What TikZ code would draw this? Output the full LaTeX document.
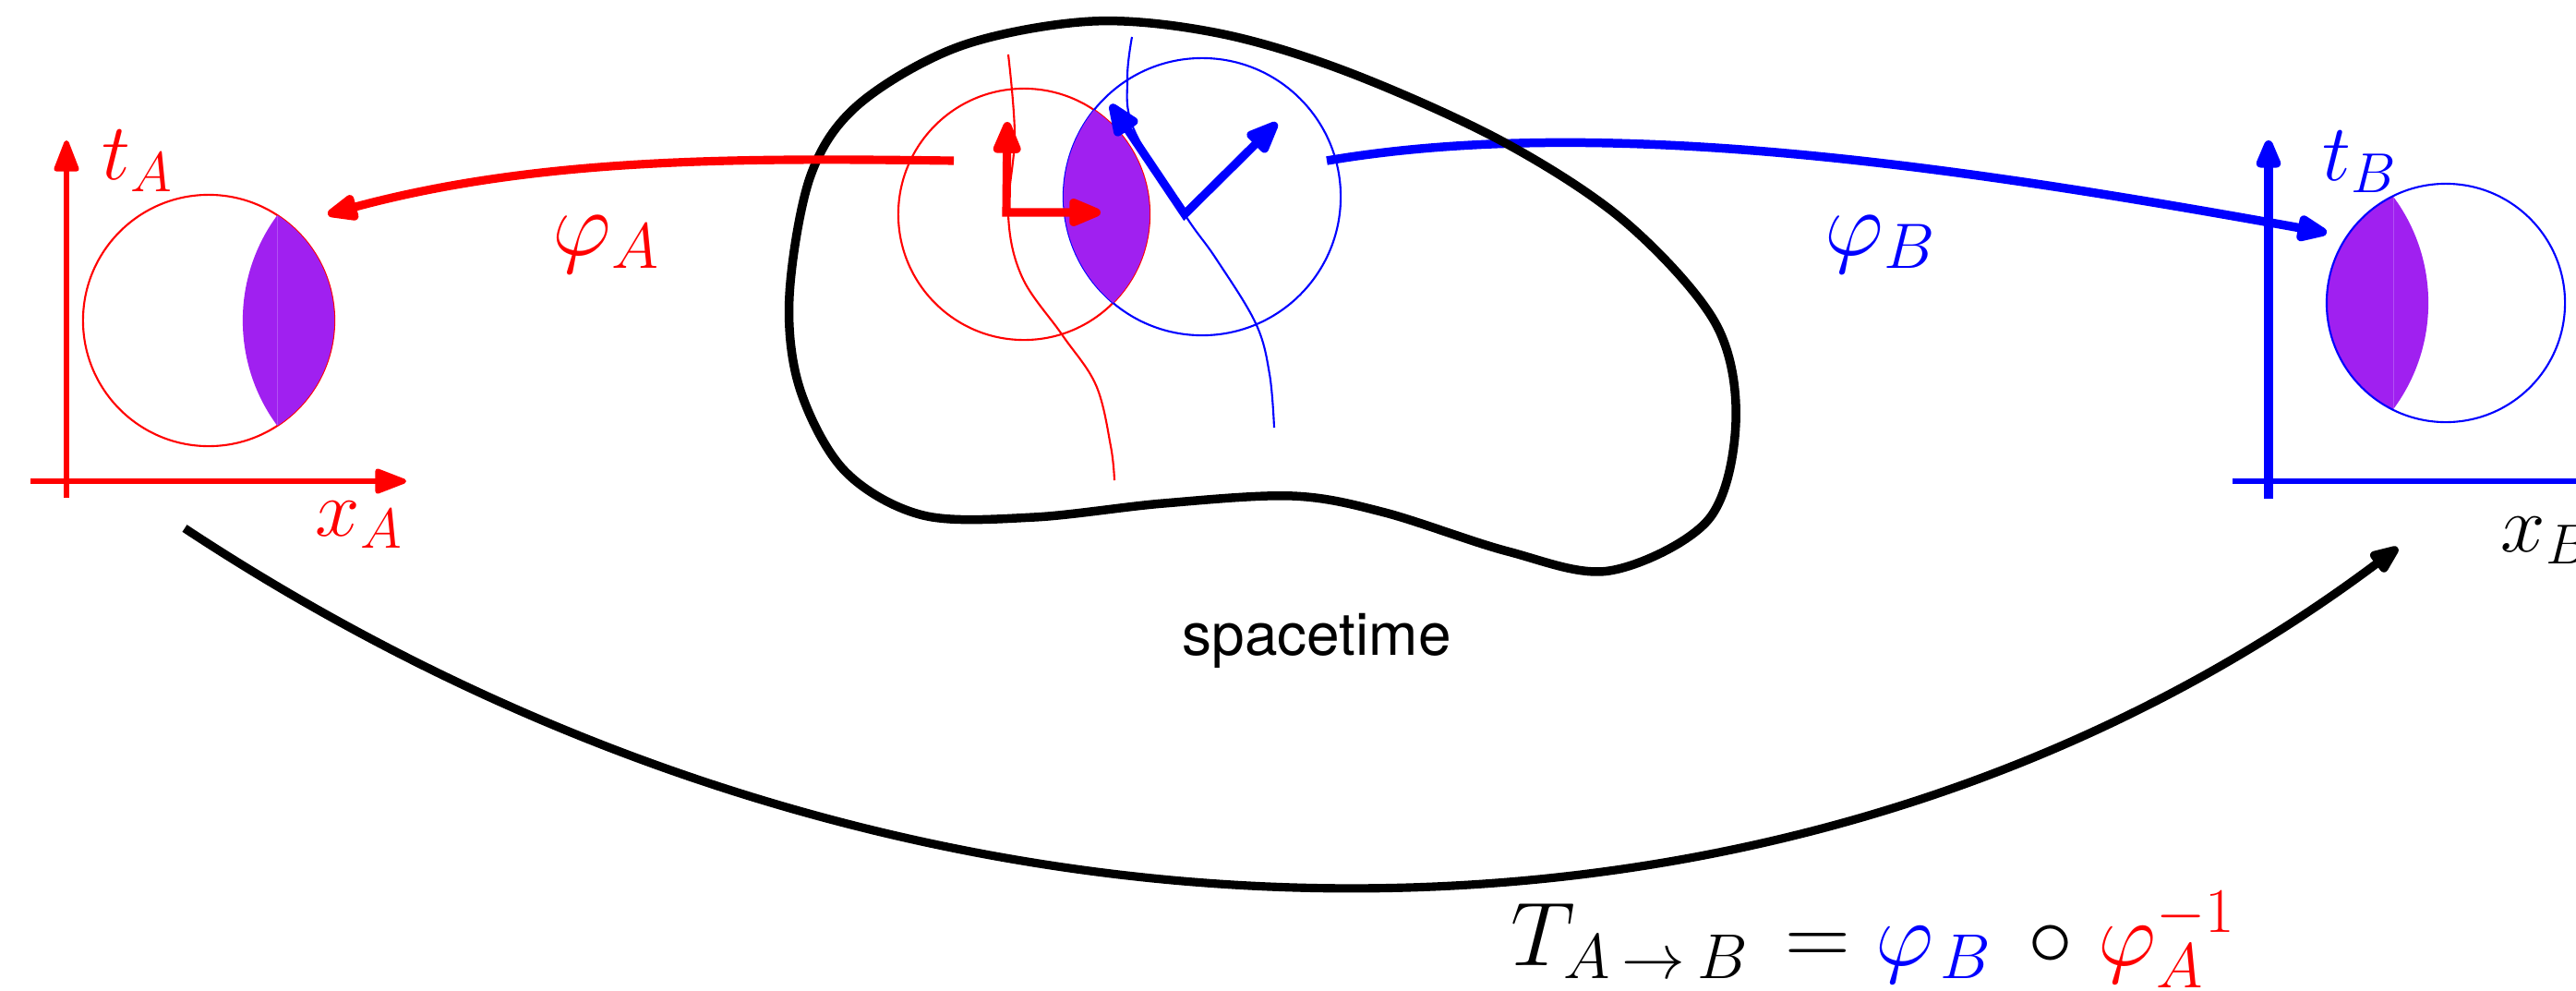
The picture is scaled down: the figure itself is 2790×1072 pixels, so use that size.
\RequirePackage{fix-cm}
\documentclass[tikz,border=0pt]{standalone}
\usepackage{fontspec}
\newfontfamily\heros{TeX Gyre Heros}
\usetikzlibrary{arrows.meta}
\definecolor{lens}{RGB}{160,32,240}
\definecolor{seam}{RGB}{178,80,243}
\tikzset{
  thincirc/.style={line width=0.6pt},
  wline/.style={line width=0.6pt},
  framearrows/.style={line width=2.6pt,
     {Triangle[length=12pt,width=9pt,round]}-{Triangle[length=12pt,width=9pt,round]}},
  mapA/.style={red, line width=2.6pt, -{Triangle[length=11.5pt,width=8.5pt,round]}},
  mapB/.style={blue, line width=2.7pt, -{Triangle[length=11.5pt,width=8.5pt,round]}},
  axisthin/.style={line width=1.5pt, -{Triangle[length=11pt,width=8pt,round]}},
  axisthick/.style={line width=2.7pt, -{Triangle[length=11pt,width=8pt,round]}},
  blob/.style={line width=2.7pt, line join=round},
  bigarc/.style={line width=2.6pt, -{Triangle[length=11pt,width=8pt,round]}},
  lbl/.style={inner sep=0pt, anchor=base west},
  seamline/.style={seam, line width=0.2pt},
}
\begin{document}
\begin{tikzpicture}[x=0.01cm, y=-0.01cm]
\useasboundingbox (0,0) rectangle (2790,1072);

% ---------- left chart (A) ----------
\draw[red, thincirc] (226,347) circle[radius=1.36cm];
\begin{scope}
  \clip (226,347) circle[radius=1.36cm];
  \fill[lens] (455,347) circle[radius=1.92cm];
\end{scope}
\draw[seamline] (300,234) -- (300,460);
\coordinate (oA1) at (72,539);
\coordinate (tAtip) at (72,152);
\coordinate (oA2) at (33,521);
\coordinate (xAtip) at (440,521);
\draw[red, axisthin] (oA1) -- (tAtip);
\draw[red, axisthin] (oA2) -- (xAtip);

% ---------- phi_B arrow (under the spacetime outline) ----------
\coordinate (phiBstart) at (1437,174);
\coordinate (phiBend) at (2520,252);
\draw[mapB] (phiBstart) .. controls (1737,123) and (2120,180) .. (phiBend);

% ---------- spacetime outline ----------
\draw[blob] plot[smooth cycle, tension=0.55] coordinates {
  (855,320) (878,190) (930,113) (1040,50) (1183,23) (1320,36) (1460,78)
  (1627,153) (1760,240) (1858,350) (1880,457) (1850,563) (1743,618)
  (1633,597) (1500,555) (1400,537) (1260,545) (1120,560) (1000,558)
  (915,510) (866,420)};

% ---------- local patches in spacetime ----------
\draw[red, thincirc] (1109,232) circle[radius=1.36cm];
\draw[blue, thincirc] (1302,213) circle[radius=1.50cm];
\draw[red, wline] plot[smooth, tension=0.6] coordinates {
  (1092,59) (1099,147) (1092,233) (1107,300) (1150,362) (1187,417) (1203,483) (1207,520)};
\draw[blue, wline] plot[smooth, tension=0.6] coordinates {
  (1226,40) (1221,85) (1228,140) (1283,232) (1317,280) (1360,350) (1375,405) (1380,463)};
\begin{scope}
  \clip (1109,232) circle[radius=1.36cm];
  \fill[lens] (1302,213) circle[radius=1.50cm];
\end{scope}
\coordinate (oR) at (1090,230);
\coordinate (oB) at (1283,232);
\draw[red, framearrows] (1091,132) -- (oR) -- (1192,230);
\draw[blue, framearrows] (1203,113) -- (oB) -- (1383,133);

% ---------- phi_A arrow ----------
\coordinate (phiAstart) at (1033,174);
\coordinate (phiAend) at (355,232);
\draw[mapA] (phiAstart) .. controls (803,171) and (585,170) .. (phiAend);

% ---------- right chart (B) ----------
\begin{scope}
  \clip (2649,328) circle[radius=1.29cm];
  \fill[lens] (2437,328) circle[radius=1.93cm];
\end{scope}
\draw[seamline] (2592,214) -- (2592,442);
\draw[blue, thincirc] (2649,328) circle[radius=1.29cm];
\coordinate (oB1) at (2457,540);
\coordinate (tBtip) at (2457,152);
\coordinate (oB2) at (2418,521);
\coordinate (xBtip) at (2830,521);
\draw[blue, axisthick] (oB1) -- (tBtip);
\draw[blue, axisthin] (oB2) -- (xBtip);

% ---------- transition map arrow ----------
\coordinate (Tstart) at (200,572);
\coordinate (Tend) at (2597,593);
\draw[bigarc] (Tstart) .. controls (987,1091) and (1947,1080) .. (Tend);

% ---------- labels ----------
\node[lbl, red, font=\fontsize{24.75}{30}\selectfont] (tA) at (110,194) {$t_A$};
\node[lbl, red, font=\fontsize{24.75}{30}\selectfont] (xA) at (341,580) {$x_A$};
\node[lbl, blue, font=\fontsize{24.75}{30}\selectfont] (tB) at (2515,195) {$t_B$};
\node[lbl, font=\fontsize{24.75}{30}\selectfont] (xB) at (2708,597) {$x_B$};
\node[lbl, red, font=\fontsize{28.2}{34}\selectfont] (phiA) at (598,276) {$\varphi_A$};
\node[lbl, blue, font=\fontsize{28.2}{34}\selectfont] (phiB) at (1976,276) {$\varphi_B$};
\node[anchor=base, inner sep=0pt, font=\heros\fontsize{18.2}{22}\selectfont] (st) at (1426,709) {spacetime};
\node[lbl, font=\fontsize{27.9}{34}\selectfont] (formula) at (1636,1045)
  {$T_{A\mkern3.5mu\to\mkern3.5mu B}\mkern2mu = {\color{blue}\varphi_{\mkern2mu B}}\mkern3mu\circ\mkern1mu{\color{red}\varphi_A^{-1}}$};
\end{tikzpicture}
\end{document}
